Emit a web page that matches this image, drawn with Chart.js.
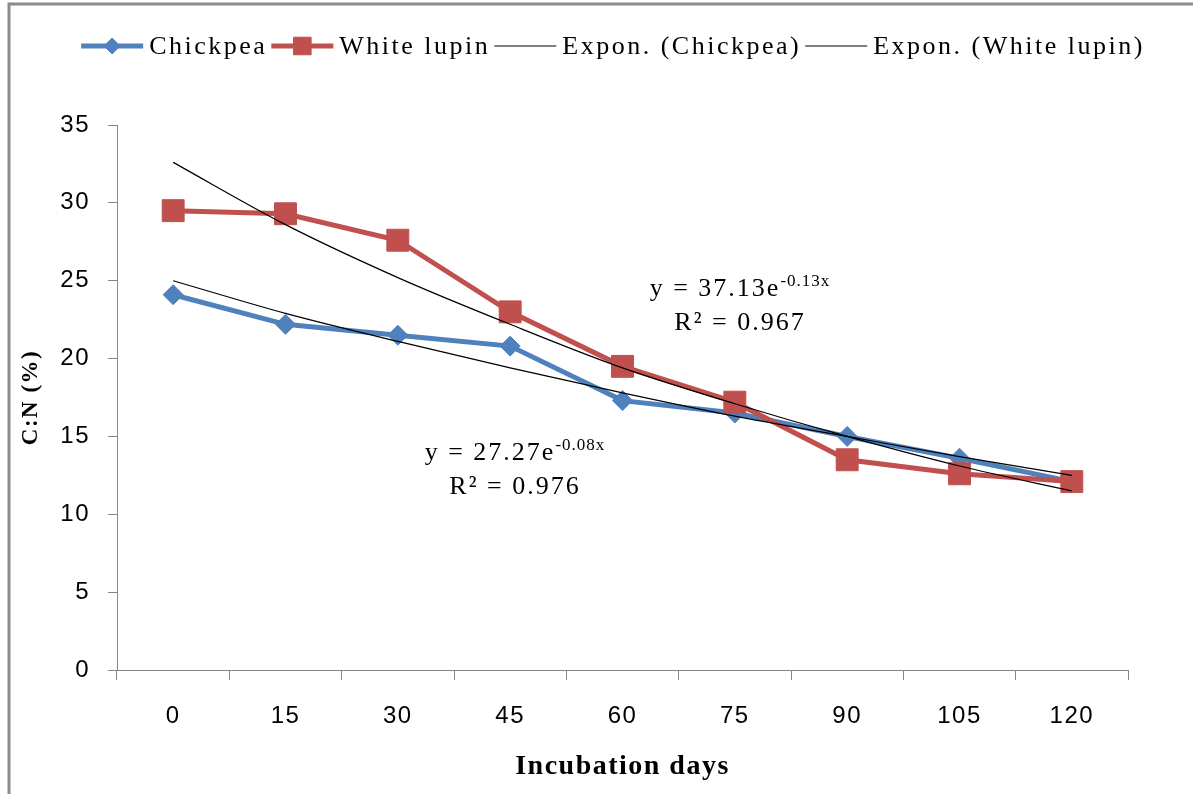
<!DOCTYPE html>
<html>
<head>
<meta charset="utf-8">
<script src="https://cdn.jsdelivr.net/npm/chart.js"></script>
<style>
  html, body { margin: 0; background: #fff; }
  #wrap { width: 1193px; height: 794px; position: relative; }
</style>
</head>
<body>
<div id="wrap"><canvas id="cn"></canvas></div>

<script>
  // C:N ratio during incubation
  const days = ['0', '15', '30', '45', '60', '75', '90', '105', '120'];
  const chickpea = [24.1, 22.2, 21.5, 20.8, 17.3, 16.5, 15.0, 13.6, 12.1];
  const whiteLupin = [29.5, 29.3, 27.6, 23.0, 19.5, 17.2, 13.5, 12.6, 12.1];
  // exponential trend lines, read at each sampling day
  const chickpeaTrend = [25.0, 22.9, 21.1, 19.4, 17.8, 16.3, 15.0, 13.7, 12.5];
  const lupinTrend = [32.6, 28.6, 25.2, 22.2, 19.4, 17.1, 15.0, 13.1, 11.5];

  const chickpeaEq = ['y = 27.27e', '-0.08x', 'R² = 0.976'];
  const lupinEq = ['y = 37.13e', '-0.13x', 'R² = 0.967'];

  const blue = '#4F81BD';
  const red = '#C0504D';
  const axisGrey = '#868686';

  // thin grey frame on top and left
  const frame = {
    id: 'frame',
    beforeDraw(chart) {
      const ctx = chart.ctx;
      ctx.save();
      ctx.strokeStyle = '#8c8c8c';
      ctx.lineWidth = 3;
      ctx.beginPath();
      ctx.moveTo(9, 794);
      ctx.lineTo(9, 4);
      ctx.lineTo(1193, 4);
      ctx.stroke();
      ctx.restore();
      ctx.letterSpacing = '1.5px';
    }
  };

  const legendRow = {
    id: 'legendRow',
    afterDraw(chart) {
      const ctx = chart.ctx;
      ctx.save();
      ctx.font = '26px "Liberation Serif"';
      ctx.letterSpacing = '2.5px';
      ctx.textBaseline = 'middle';
      const lineW = 62, gapA = 6, gapB = 4;
      const items = chart.data.datasets.map(ds => ({ ds, w: ctx.measureText(ds.label).width }));
      const total = items.reduce((s, it) => s + lineW + gapA + it.w + gapB, 0) - gapB;
      let x = 613 - total / 2;
      const y = 46;
      items.forEach(({ ds, w }) => {
        ctx.strokeStyle = ds.borderColor;
        ctx.lineWidth = ds.borderWidth;
        ctx.beginPath();
        ctx.moveTo(x, y);
        ctx.lineTo(x + lineW, y);
        ctx.stroke();
        if (ds.pointRadius) {
          ctx.fillStyle = ds.pointBackgroundColor;
          ctx.strokeStyle = ds.pointBorderColor;
          ctx.lineWidth = 1;
          Chart.helpers.drawPoint(ctx, {
            pointStyle: ds.pointStyle,
            radius: ds.pointRadius * 0.8,
            borderWidth: 1,
            rotation: 0
          }, x + lineW / 2, y);
        }
        ctx.fillStyle = '#000';
        ctx.fillText(ds.label, x + lineW + gapA, y + 1);
        x += lineW + gapA + w + gapB;
      });
      ctx.restore();
    }
  };

  // trend equations with superscript exponent
  const mainFont = '26px "Liberation Serif"';
  const supFont = '17px "Liberation Serif"';
  const drawEq = (ctx, eq, cx, baseY) => {
    ctx.font = mainFont;
    ctx.letterSpacing = '2px';
    const wMain = ctx.measureText(eq[0]).width;
    ctx.font = supFont;
    ctx.letterSpacing = '1px';
    const wSup = ctx.measureText(eq[1]).width;
    const left = cx - (wMain + wSup) / 2;
    ctx.font = mainFont;
    ctx.letterSpacing = '2px';
    ctx.textAlign = 'left';
    ctx.fillText(eq[0], left, baseY);
    ctx.font = supFont;
    ctx.letterSpacing = '1px';
    ctx.fillText(eq[1], left + wMain, baseY - 10);
    ctx.font = mainFont;
    ctx.letterSpacing = '2px';
    ctx.textAlign = 'center';
    ctx.fillText(eq[2], cx, baseY + 34);
  };

  const equations = {
    id: 'equations',
    afterDraw(chart) {
      const ctx = chart.ctx;
      ctx.save();
      ctx.fillStyle = '#000';
      ctx.textBaseline = 'alphabetic';
      drawEq(ctx, chickpeaEq, 515, 460);
      drawEq(ctx, lupinEq, 740, 296);
      ctx.restore();
    }
  };

  const data = {
    labels: days,
    datasets: [{
      label: 'Chickpea',
      data: chickpea,
      borderColor: blue,
      backgroundColor: blue,
      pointBackgroundColor: blue,
      pointBorderColor: blue,
      borderWidth: 5,
      pointStyle: 'rectRot',
      pointRadius: 10,
      pointBorderWidth: 1,
      order: 3
    }, {
      label: 'White lupin',
      data: whiteLupin,
      borderColor: red,
      backgroundColor: red,
      pointBackgroundColor: red,
      pointBorderColor: red,
      borderWidth: 5,
      pointStyle: 'rect',
      pointRadius: 15.5,
      pointBorderWidth: 1,
      order: 2
    }, {
      label: 'Expon. (Chickpea)',
      data: chickpeaTrend,
      borderColor: '#000',
      borderWidth: 1.2,
      pointRadius: 0,
      cubicInterpolationMode: 'monotone',
      order: 1
    }, {
      label: 'Expon. (White lupin)',
      data: lupinTrend,
      borderColor: '#000',
      borderWidth: 1.2,
      pointRadius: 0,
      cubicInterpolationMode: 'monotone',
      order: 0
    }]
  };

  const config = {
    type: 'line',
    data: data,
    options: {
      responsive: true,
      maintainAspectRatio: false,
      animation: false,
      layout: { padding: { top: 125, left: 10, right: 65, bottom: 0 } },
      plugins: {
        legend: { display: false },
        tooltip: { enabled: false }
      },
      scales: {
        x: {
          offset: true,
          grid: { offset: true, drawOnChartArea: false, drawTicks: true, tickLength: 10, color: axisGrey },
          border: { display: true, color: axisGrey, width: 1 },
          ticks: { color: '#000', padding: 22, font: { family: 'Liberation Sans', size: 24 }, maxRotation: 0 },
          title: {
            display: true,
            text: 'Incubation days',
            color: '#000',
            font: { family: 'Liberation Serif', size: 28, weight: 'bold' },
            padding: { top: 0, bottom: 10 }
          },
          afterFit: (scale) => { scale.height = 124; }
        },
        y: {
          min: 0,
          max: 35,
          ticks: { stepSize: 5, color: '#000', padding: 18, font: { family: 'Liberation Sans', size: 24 } },
          grid: { drawOnChartArea: false, drawTicks: true, tickLength: 9, color: axisGrey },
          border: { display: true, color: axisGrey, width: 1 },
          title: {
            display: true,
            text: 'C:N (%)',
            color: '#000',
            font: { family: 'Liberation Serif', size: 23, weight: 'bold' },
            padding: { top: 7, bottom: 0 }
          },
          afterFit: (scale) => { scale.width = 107; }
        }
      }
    },
    plugins: [frame, legendRow, equations]
  };

  const myChart = new Chart(document.getElementById('cn'), config);
</script>
</body>
</html>
